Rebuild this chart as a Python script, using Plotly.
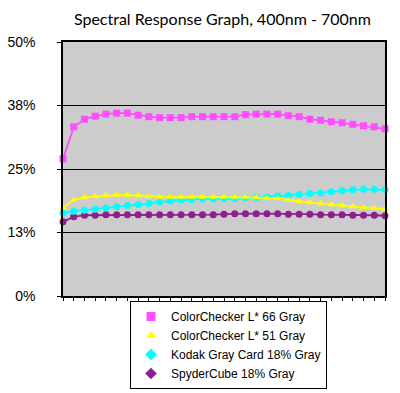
import plotly.graph_objects as go

wavelengths = list(range(400, 701, 10))

cc66 = [27.0, 33.3, 34.8, 35.4, 35.8, 36.0, 36.0, 35.6, 35.3, 35.1, 35.1, 35.1, 35.3, 35.3, 35.3,
        35.3, 35.3, 35.7, 35.8, 35.8, 35.8, 35.5, 35.3, 34.8, 34.6, 34.3, 34.1, 33.8, 33.5, 33.3, 32.9]
cc51 = [17.3, 18.9, 19.4, 19.6, 19.8, 19.9, 19.9, 19.8, 19.6, 19.5, 19.5, 19.5, 19.5, 19.5, 19.5,
        19.5, 19.5, 19.5, 19.4, 19.3, 19.2, 18.9, 18.6, 18.4, 18.2, 18.0, 17.8, 17.6, 17.4, 17.3, 17.1]
kodak = [16.3, 16.7, 16.9, 17.1, 17.3, 17.6, 17.8, 18.0, 18.2, 18.5, 18.7, 18.9, 19.0, 19.1, 19.1,
         19.2, 19.2, 19.3, 19.4, 19.5, 19.7, 19.8, 20.0, 20.2, 20.3, 20.5, 20.7, 20.9, 21.0, 21.0, 20.9]
spyder = [14.6, 15.6, 15.9, 15.9, 16.0, 16.0, 16.0, 16.0, 16.0, 16.0, 16.0, 16.0, 16.0, 16.0, 16.0,
          16.1, 16.2, 16.2, 16.2, 16.2, 16.2, 16.1, 16.1, 16.1, 16.0, 16.0, 16.0, 15.9, 15.9, 15.9, 15.8]

series_names = ["ColorChecker L* 66 Gray", "ColorChecker L* 51 Gray",
                "Kodak Gray Card 18% Gray", "SpyderCube 18% Gray"]
series_values = [cc66, cc51, kodak, spyder]
colors = ["#ff4dff", "#ffff00", "#00ffff", "#8e1f8e"]
symbols = ["square", "triangle-up", "circle", "circle"]
legend_symbols = ["square", "triangle-up", "diamond", "diamond"]
draw_order = [3, 2, 1, 0]

ytick_vals = [0, 0.125, 0.25, 0.375, 0.5]
ytick_text = ["0%", "13%", "25%", "38%", "50%"]

fig = go.Figure()
for i in draw_order:
    c = colors[i]
    fig.add_trace(go.Scatter(
        x=wavelengths, y=[v / 100 for v in series_values[i]], name=series_names[i],
        mode="lines+markers",
        line=dict(color=c, width=1.8), marker=dict(color=c, symbol=symbols[i], size=7),
        cliponaxis=False, showlegend=False,
    ))
# legend entries (marker only, like the reference)
for name, c, s in zip(series_names, colors, legend_symbols):
    fig.add_trace(go.Scatter(
        x=[None], y=[None], name=name, mode="markers",
        marker=dict(color=c, symbol=s, size=9), showlegend=True,
    ))

fig.update_layout(
    width=400, height=393,
    margin=dict(l=63, r=15, t=42, b=97, autoexpand=False),
    paper_bgcolor="white", plot_bgcolor="#cccccc",
    title=dict(text="Spectral Response Graph, 400nm - 700nm", x=0.556, xanchor="center",
               xref="container", yref="container",
               y=1 - 19 / 393, yanchor="middle",
               font=dict(family="Lato, Open Sans, sans-serif", size=16, color="black")),
    showlegend=True,
    legend=dict(x=130 / 400, xanchor="left", xref="container",
                y=1 - 301 / 393, yanchor="top", yref="container",
                bgcolor="white", bordercolor="black", borderwidth=1,
                font=dict(family="Liberation Sans, Arial, sans-serif", size=12, color="black"),
                tracegroupgap=0),
    font=dict(family="Liberation Sans, Arial, sans-serif"),
)
fig.update_xaxes(range=[400, 700], tickvals=wavelengths, showticklabels=False,
                 ticks="outside", ticklen=3, tickcolor="black", showgrid=False, automargin=False,
                 showline=True, linecolor="black", linewidth=1.5, mirror=True, zeroline=False)
fig.update_yaxes(range=[0, 0.5], tickvals=ytick_vals, ticktext=ytick_text, automargin=False,
                 ticks="outside", ticklen=4, tickcolor="black",
                 showgrid=True, gridcolor="black", gridwidth=1.2,
                 showline=True, linecolor="black", linewidth=1.5, mirror=True, zeroline=False,
                 tickfont=dict(size=14, color="black"), ticklabelstandoff=19)

fig.write_html("out.html", config={"displayModeBar": False},
               post_script="document.body.style.margin='0';")
